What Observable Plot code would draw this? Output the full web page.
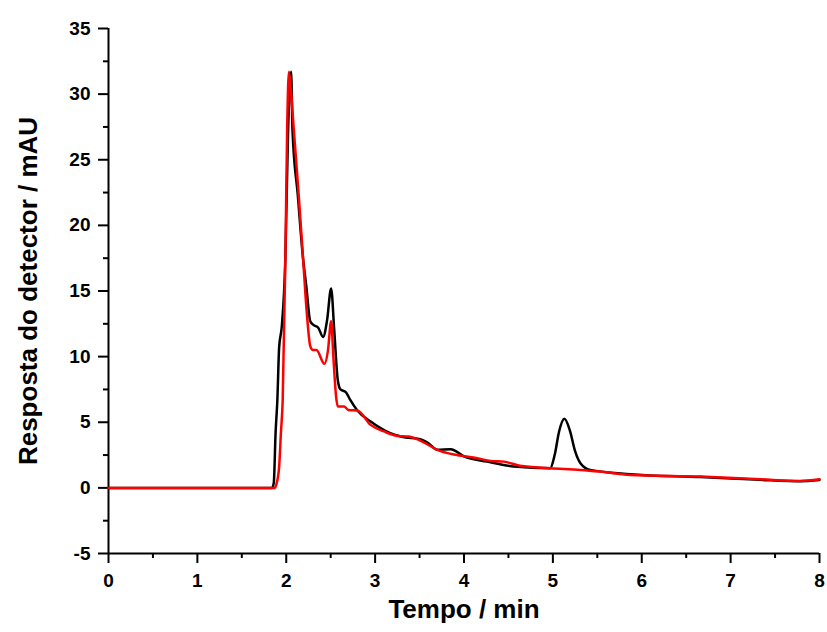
<!DOCTYPE html>
<html>
<head>
<meta charset="utf-8">
<script src="https://cdn.jsdelivr.net/npm/d3@7"></script>
<script src="https://cdn.jsdelivr.net/npm/@observablehq/plot@0.6"></script>
<style>
  html, body { margin: 0; padding: 0; background: #fff; }
  svg { display: block; }
</style>
</head>
<body>
<div id="chart"></div>
<script>
// Black trace
const blackTime = [0, 1.0, 1.84, 1.86, 1.88, 1.90, 1.92, 1.95, 1.99, 2.02, 2.055, 2.07, 2.13, 2.19, 2.225, 2.27, 2.31, 2.36, 2.415, 2.46, 2.505, 2.54, 2.58, 2.61, 2.67, 2.72, 2.80, 2.95, 3.17, 3.30, 3.53, 3.60, 3.70, 3.85, 4.00, 4.26, 4.56, 4.97, 5.02, 5.07, 5.13, 5.19, 5.25, 5.31, 5.42, 5.87, 6.66, 7.33, 7.78, 8.0];
const blackSignal = [0, 0, 0, 0.4, 4.2, 6.7, 10.7, 12.3, 17.5, 27.0, 31.7, 27.3, 22.3, 17.4, 15.4, 12.7, 12.4, 12.2, 11.5, 12.8, 15.2, 12.0, 8.2, 7.5, 7.3, 6.7, 5.9, 5.05, 4.17, 3.9, 3.66, 3.4, 2.9, 2.95, 2.4, 2.0, 1.63, 1.5, 2.5, 4.3, 5.26, 4.4, 2.8, 1.88, 1.37, 1.04, 0.82, 0.61, 0.51, 0.6];
// Red trace
const redTime = [0, 1.0, 1.87, 1.89, 1.92, 1.94, 1.96, 1.99, 2.01, 2.03, 2.05, 2.085, 2.14, 2.19, 2.235, 2.27, 2.30, 2.34, 2.43, 2.47, 2.505, 2.53, 2.56, 2.58, 2.65, 2.70, 2.80, 2.95, 3.10, 3.25, 3.38, 3.53, 3.70, 3.92, 4.15, 4.30, 4.45, 4.63, 4.97, 5.31, 5.53, 5.87, 6.66, 7.33, 7.78, 8.0];
const redSignal = [0, 0, 0, 0.3, 1.6, 4.2, 6.7, 17.4, 27.3, 31.7, 30.5, 27.3, 22.3, 17.4, 13.0, 10.8, 10.5, 10.5, 9.45, 10.5, 12.7, 10.0, 7.0, 6.2, 6.2, 5.94, 5.9, 4.8, 4.3, 3.96, 3.91, 3.53, 2.9, 2.5, 2.26, 2.05, 2.0, 1.68, 1.5, 1.37, 1.24, 0.99, 0.86, 0.66, 0.53, 0.66];

const xTicks = [0, 1, 2, 3, 4, 5, 6, 7, 8];
const xMinorTicks = [0.5, 1.5, 2.5, 3.5, 4.5, 5.5, 6.5, 7.5];
const yTicks = [-5, 0, 5, 10, 15, 20, 25, 30, 35];
const yMinorTicks = [-2.5, 2.5, 7.5, 12.5, 17.5, 22.5, 27.5, 32.5];
const xTitle = "Tempo / min";
const yTitle = "Resposta do detector / mAU";

const black = blackTime.map((t, i) => ({t, v: blackSignal[i]}));
const red = redTime.map((t, i) => ({t, v: redSignal[i]}));

const font = "Liberation Sans, Arial, Helvetica, sans-serif";

const chart = Plot.plot({
  width: 827,
  height: 632,
  marginLeft: 108,
  marginRight: 8,
  marginTop: 28,
  marginBottom: 79,
  style: {fontFamily: font, background: "#fff", color: "#000"},
  x: {domain: [0, 8]},
  y: {domain: [-5, 35]},
  marks: [
    Plot.axisX({ticks: xTicks, tickSize: 10, tickPadding: 10, tickFormat: d => String(d), fontSize: 19, fontWeight: "bold", strokeWidth: 2, label: null}),
    Plot.axisX({ticks: xMinorTicks, tickSize: 5, tickFormat: () => "", strokeWidth: 2, label: null}),
    Plot.axisY({ticks: yTicks, tickSize: 10, tickPadding: 8, tickFormat: d => String(d), fontSize: 19, fontWeight: "bold", strokeWidth: 2, label: null}),
    Plot.axisY({ticks: yMinorTicks, tickSize: 5, tickFormat: () => "", strokeWidth: 2, label: null}),
    Plot.ruleX([0], {stroke: "#000", strokeWidth: 2}),
    Plot.ruleY([-5], {stroke: "#000", strokeWidth: 2}),
    Plot.line(black, {x: "t", y: "v", stroke: "#000", strokeWidth: 2.5, curve: "monotone-x"}),
    Plot.line(red, {x: "t", y: "v", stroke: "#ff0000", strokeWidth: 2.5, curve: "monotone-x"}),
    Plot.text([xTitle], {frameAnchor: "bottom", dy: 64, text: d => d, textAnchor: "middle", fontSize: 26, fontWeight: "bold", fill: "#000"}),
    Plot.text([yTitle], {frameAnchor: "left", dx: -80, rotate: -90, text: d => d, textAnchor: "middle", fontSize: 26, fontWeight: "bold", fill: "#000"})
  ]
});
document.getElementById("chart").appendChild(chart);
</script>
</body>
</html>
